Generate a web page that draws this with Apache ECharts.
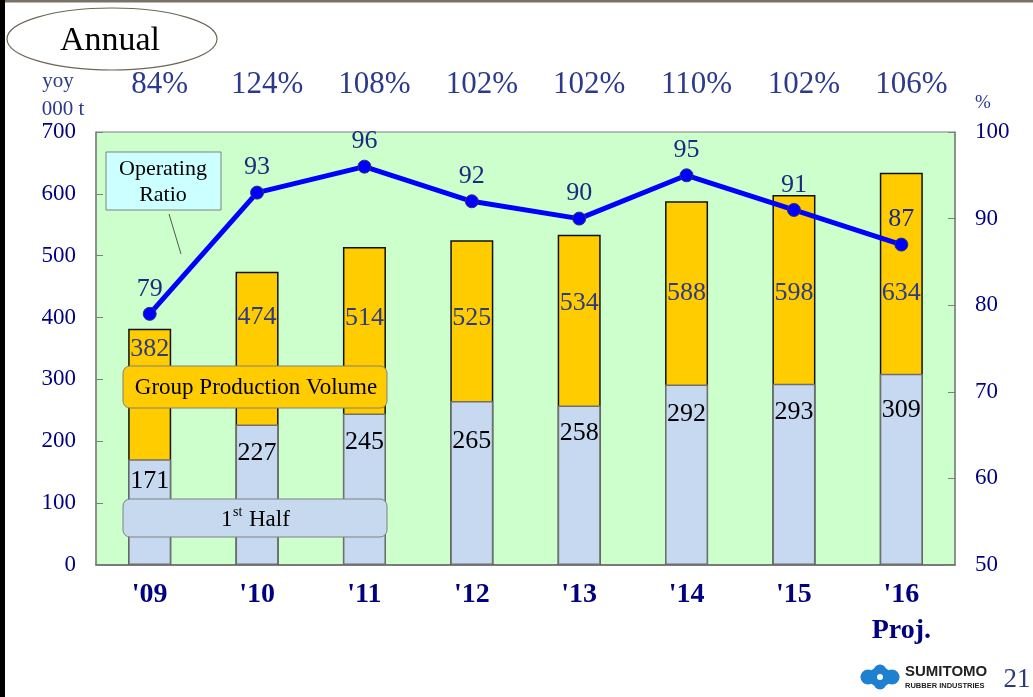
<!DOCTYPE html>
<html>
<head>
<meta charset="utf-8">
<title>Annual Group Production Volume</title>
<script src="https://cdn.jsdelivr.net/npm/echarts@6/dist/echarts.min.js"></script>
<style>
  html, body { margin: 0; padding: 0; background: #ffffff; }
  #chart { width: 1033px; height: 697px; }
</style>
</head>
<body>
<div id="chart"></div>
<script>
// Annual production volume (000 t), first-half volume and operating ratio (%)
const years = ["'09", "'10", "'11", "'12", "'13", "'14", "'15", "'16\nProj."];
const yoyLabels = ['84%', '124%', '108%', '102%', '102%', '110%', '102%', '106%'];
const annualVolume = [382, 474, 514, 525, 534, 588, 598, 634];
const firstHalfVolume = [171, 227, 245, 265, 258, 292, 293, 309];
const operatingRatio = [79, 93, 96, 92, 90, 95, 91, 87];
const leftTicks = [0, 100, 200, 300, 400, 500, 600, 700];
const rightTicks = [50, 60, 70, 80, 90, 100];

// label drop (px from bar top to text centre) so the values clear the line
const annualLabelDrop = [19, 44, 70, 77, 67, 91, 97, 119];
const halfLabelDrop = [21, 28, 28, 39, 27, 29, 27, 35];

const SERIF = "'Liberation Serif', 'Times New Roman', serif";
const NAVY = '#000080';
const SLATE = '#2b3a8c';
const GREY = '#808080';

const chart = echarts.init(document.getElementById('chart'), null, { renderer: 'canvas' });

const annualData = annualVolume.map((v, i) => ({
  value: v,
  label: { offset: [0, annualLabelDrop[i] - 12] }
}));
const halfData = firstHalfVolume.map((v, i) => ({
  value: v,
  label: { offset: [0, halfLabelDrop[i] - 12] }
}));

const option = {
  animation: false,
  backgroundColor: '#ffffff',
  grid: {
    left: 96, right: 78, top: 132, bottom: 132,
    show: true, backgroundColor: '#ccffcc', borderColor: GREY, borderWidth: 1
  },
  xAxis: [
    {
      type: 'category',
      data: years,
      position: 'bottom',
      axisLine: { lineStyle: { color: '#666666', width: 1.5 } },
      axisTick: { inside: true, length: 7, lineStyle: { color: GREY } },
      axisLabel: {
        color: NAVY, fontFamily: SERIF, fontWeight: 'bold', fontSize: 28,
        margin: 12, lineHeight: 36
      }
    },
    {
      type: 'category',
      data: yoyLabels,
      position: 'top',
      axisLine: { show: false },
      axisTick: { show: false },
      axisLabel: {
        color: SLATE, fontFamily: SERIF, fontSize: 31, margin: 32,
        padding: [0, 0, 0, 20]
      }
    }
  ],
  yAxis: [
    {
      type: 'value', min: leftTicks[0], max: leftTicks[leftTicks.length - 1], interval: 100,
      position: 'left',
      splitLine: { show: false },
      axisLine: { show: true, lineStyle: { color: GREY, width: 1.5 } },
      axisTick: { show: true, inside: true, length: 7, lineStyle: { color: GREY } },
      axisLabel: { color: NAVY, fontFamily: SERIF, fontSize: 23, margin: 20 }
    },
    {
      type: 'value', min: rightTicks[0], max: rightTicks[rightTicks.length - 1], interval: 10,
      position: 'right',
      splitLine: { show: false },
      axisLine: { show: true, lineStyle: { color: GREY, width: 1.5 } },
      axisTick: { show: true, inside: true, length: 7, lineStyle: { color: GREY } },
      axisLabel: { color: NAVY, fontFamily: SERIF, fontSize: 23, margin: 20 }
    }
  ],
  series: [
    {
      name: 'Group Production Volume',
      type: 'bar',
      data: annualData,
      barWidth: 43,
      z: 2,
      itemStyle: { color: '#ffcc00', borderColor: '#111111', borderWidth: 1.5 },
      label: {
        show: true, position: 'insideTop', distance: 0,
        color: '#2e3b82', fontFamily: SERIF, fontSize: 26
      }
    },
    {
      name: '1st Half',
      type: 'bar',
      data: halfData,
      barWidth: 43,
      barGap: '-100%',
      z: 3,
      itemStyle: { color: '#c6d9f0', borderColor: '#6f6f6f', borderWidth: 1.5 },
      label: {
        show: true, position: 'insideTop', distance: 0,
        color: '#000000', fontFamily: SERIF, fontSize: 26
      }
    },
    {
      name: 'Operating Ratio',
      type: 'line',
      yAxisIndex: 1,
      data: operatingRatio,
      z: 5,
      lineStyle: { color: '#0000ff', width: 5 },
      symbol: 'circle',
      symbolSize: 13,
      itemStyle: { color: '#0000ff', borderColor: '#333366', borderWidth: 1 },
      label: {
        show: true, position: 'top', distance: 5,
        color: '#1c2a80', fontFamily: SERIF, fontSize: 26
      }
    }
  ],
  graphic: [
    // slide frame
    { type: 'rect', z: 100, shape: { x: 0, y: 0, width: 1033, height: 2.5 }, style: { fill: '#7a7266' } },
    { type: 'rect', z: 100, shape: { x: 0, y: 0, width: 5, height: 697 }, style: { fill: '#000000' } },
    // title bubble
    { type: 'ellipse', z: 100, shape: { cx: 112, cy: 39, rx: 105, ry: 31 },
      style: { fill: '#ffffff', stroke: '#6e6658', lineWidth: 1.2 } },
    { type: 'text', z: 101, x: 110, y: 41,
      style: { text: 'Annual', fill: '#000000', font: '34px ' + SERIF, align: 'center', verticalAlign: 'middle' } },
    // axis captions
    { type: 'text', z: 100, x: 58, y: 81,
      style: { text: 'yoy', fill: SLATE, font: '21px ' + SERIF, align: 'center', verticalAlign: 'middle' } },
    { type: 'text', z: 100, x: 63, y: 109,
      style: { text: '000 t', fill: SLATE, font: '21px ' + SERIF, align: 'center', verticalAlign: 'middle' } },
    { type: 'text', z: 100, x: 983, y: 103,
      style: { text: '%', fill: SLATE, font: '19px ' + SERIF, align: 'center', verticalAlign: 'middle' } },
    // operating ratio callout
    { type: 'line', z: 100, shape: { x1: 169, y1: 214, x2: 181, y2: 254 }, style: { stroke: '#555555', lineWidth: 1 } },
    { type: 'rect', z: 100, shape: { x: 106, y: 152, width: 115, height: 58 },
      style: { fill: '#ccffff', stroke: GREY, lineWidth: 1 } },
    { type: 'text', z: 101, x: 163, y: 169,
      style: { text: 'Operating', fill: '#000000', font: '22px ' + SERIF, align: 'center', verticalAlign: 'middle' } },
    { type: 'text', z: 101, x: 163, y: 195,
      style: { text: 'Ratio', fill: '#000000', font: '22px ' + SERIF, align: 'center', verticalAlign: 'middle' } },
    // series captions
    { type: 'rect', z: 100, shape: { x: 123, y: 366, width: 264, height: 42, r: 7 },
      style: { fill: '#ffcc00', stroke: GREY, lineWidth: 1 } },
    { type: 'text', z: 101, x: 256, y: 388,
      style: { text: 'Group Production Volume', fill: '#000000', font: '23px ' + SERIF, align: 'center', verticalAlign: 'middle' } },
    { type: 'rect', z: 100, shape: { x: 123, y: 499, width: 264, height: 38, r: 7 },
      style: { fill: '#c6d9ee', stroke: GREY, lineWidth: 1 } },
    { type: 'text', z: 101, x: 221, y: 520,
      style: { text: '1', fill: '#000000', font: '23px ' + SERIF, align: 'left', verticalAlign: 'middle' } },
    { type: 'text', z: 101, x: 233, y: 512,
      style: { text: 'st', fill: '#000000', font: '14px ' + SERIF, align: 'left', verticalAlign: 'middle' } },
    { type: 'text', z: 101, x: 249, y: 520,
      style: { text: 'Half', fill: '#000000', font: '23px ' + SERIF, align: 'left', verticalAlign: 'middle' } },
    // corporate mark and page number
    { type: 'group', z: 100, x: 880, y: 677, children: [
      { type: 'polygon', shape: { points: [[-20, 0], [0, -12], [20, 0], [0, 12]] }, style: { fill: '#1f7fd0' } },
      { type: 'circle', shape: { cx: -12, cy: 0, r: 7.5 }, style: { fill: '#1f7fd0' } },
      { type: 'circle', shape: { cx: 12, cy: 0, r: 7.5 }, style: { fill: '#1f7fd0' } },
      { type: 'circle', shape: { cx: 0, cy: -6, r: 6.5 }, style: { fill: '#1f7fd0' } },
      { type: 'circle', shape: { cx: 0, cy: 6, r: 6.5 }, style: { fill: '#1f7fd0' } },
      { type: 'circle', shape: { cx: 0, cy: 0, r: 3 }, style: { fill: '#ffffff' } }
    ] },
    { type: 'text', z: 100, x: 905, y: 672,
      style: { text: 'SUMITOMO', fill: '#222222', font: 'bold 15px "Liberation Sans", Arial, sans-serif', align: 'left', verticalAlign: 'middle' } },
    { type: 'text', z: 100, x: 905, y: 686,
      style: { text: 'RUBBER INDUSTRIES', fill: '#222222', font: 'bold 7.5px "Liberation Sans Narrow", "Liberation Sans", sans-serif', align: 'left', verticalAlign: 'middle' } },
    { type: 'text', z: 100, x: 1017, y: 680,
      style: { text: '21', fill: '#2b3a7a', font: '27px ' + SERIF, align: 'center', verticalAlign: 'middle' } }
  ]
};

chart.setOption(option);
</script>
</body>
</html>
